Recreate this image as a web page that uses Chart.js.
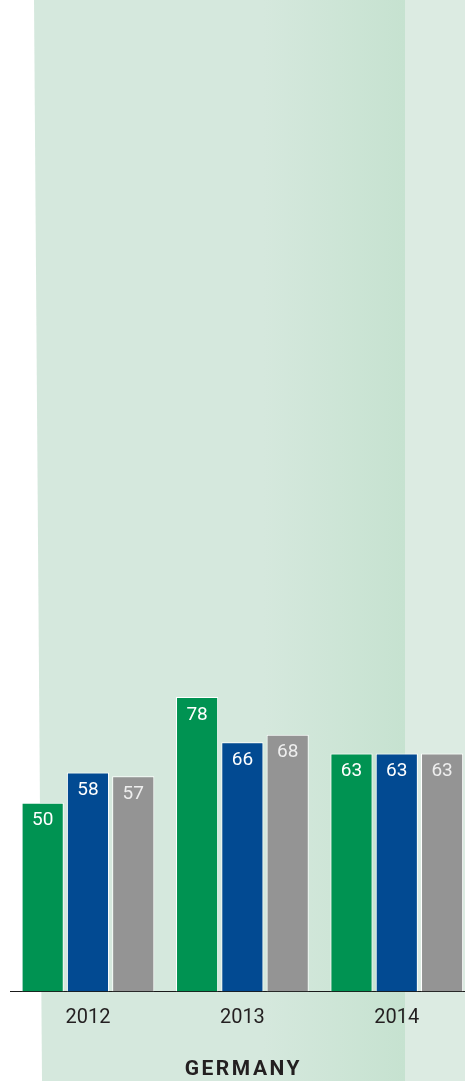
<!DOCTYPE html>
<html lang="en">
<head>
    <meta charset="UTF-8">
    <title>Germany</title>
    <script src="https://cdn.jsdelivr.net/npm/chart.js"></script>
    <style>
        html, body { margin: 0; padding: 0; background: #fff; overflow: hidden; }
        #chart { display: block; }
    </style>
</head>
<body>
    <canvas id="chart" width="474" height="1081"></canvas>
    <script>
        // values
        const years = ['2012', '2013', '2014'];
        const greenSeries = [50, 78, 63];
        const blueSeries = [58, 66, 63];
        const greySeries = [57, 68, 63];
        const regionTitle = 'GERMANY';

        const FONT = 'Roboto, "Noto Sans", sans-serif';

        // light green panels behind the bars
        const panelPlugin = {
            id: 'panel',
            beforeDraw(chart) {
                const ctx = chart.ctx;
                const h = chart.height;
                ctx.save();
                ctx.fillStyle = '#ffffff';
                ctx.fillRect(0, 0, chart.width, h);
                ctx.fillStyle = '#dcebe2';
                ctx.fillRect(405, 0, chart.width - 405, h);
                const grad = ctx.createLinearGradient(34, 0, 405, 0);
                grad.addColorStop(0, '#d5e8dd');
                grad.addColorStop(0.62, '#d5e8dd');
                grad.addColorStop(1, '#c6e2d0');
                ctx.fillStyle = grad;
                ctx.beginPath();
                ctx.moveTo(34, 0);
                ctx.lineTo(405, 0);
                ctx.lineTo(405, h);
                ctx.lineTo(42, h);
                ctx.closePath();
                ctx.fill();
                ctx.restore();
            }
        };

        // numbers inside the top of each bar, plus the country name
        const labelPlugin = {
            id: 'labels',
            afterDatasetsDraw(chart) {
                const ctx = chart.ctx;
                ctx.save();
                ctx.font = '19px ' + FONT;
                ctx.textAlign = 'center';
                ctx.textBaseline = 'middle';
                chart.data.datasets.forEach((ds, i) => {
                    ctx.fillStyle = i === 2 ? '#eeeeee' : '#ffffff';
                    chart.getDatasetMeta(i).data.forEach((bar, j) => {
                        ctx.fillText(ds.data[j], bar.x, bar.y + 18);
                    });
                });
                ctx.restore();
            },
            afterDraw(chart) {
                const ctx = chart.ctx;
                const x = chart.scales.x;
                ctx.save();
                ctx.font = 'bold 21px ' + FONT;
                ctx.fillStyle = '#231f20';
                ctx.textAlign = 'center';
                ctx.textBaseline = 'middle';
                ctx.letterSpacing = '2.5px';
                ctx.fillText(regionTitle, x.getPixelForValue(1) + 1, 1070);
                ctx.restore();
            }
        };

        new Chart(document.getElementById('chart'), {
            type: 'bar',
            data: {
                labels: years,
                datasets: [
                    { data: greenSeries, backgroundColor: '#009352' },
                    { data: blueSeries, backgroundColor: '#024a92' },
                    { data: greySeries, backgroundColor: '#949494' }
                ]
            },
            options: {
                responsive: false,
                animation: false,
                layout: { padding: { left: 10.75, right: 0, top: 0, bottom: 35.6 } },
                datasets: {
                    bar: {
                        categoryPercentage: 0.88,
                        barPercentage: 0.93,
                        borderColor: '#ffffff',
                        borderWidth: 1
                    }
                },
                plugins: {
                    legend: { display: false },
                    tooltip: { enabled: false }
                },
                scales: {
                    y: {
                        display: false,
                        min: 0,
                        max: 262.6
                    },
                    x: {
                        grid: { display: false, drawTicks: false },
                        border: { display: true, color: '#1a1a1a', width: 1 },
                        ticks: {
                            padding: 15,
                            color: '#231f20',
                            font: { family: FONT, size: 20 }
                        }
                    }
                }
            },
            plugins: [panelPlugin, labelPlugin]
        });
    </script>
</body>
</html>
